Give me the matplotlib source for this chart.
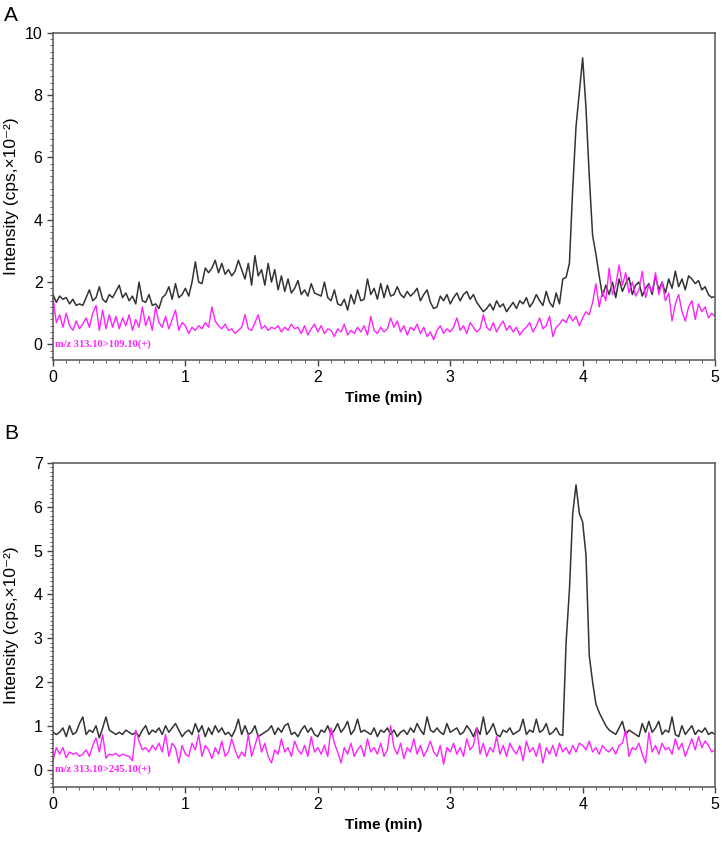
import numpy as np
import matplotlib
matplotlib.use('Agg')
import matplotlib.pyplot as plt
from matplotlib.ticker import MultipleLocator

plt.rcParams['font.family'] = ['Liberation Sans', 'DejaVu Sans']

# time axis, one reading every 0.025 min
time_min = np.linspace(0, 5, 201)

# panel A, values in cps x 10^-2
a_black = [
    1.6, 1.35, 1.55, 1.45, 1.5, 1.3, 1.45, 1.25, 1.3, 1.25, 1.5, 1.75, 1.4, 1.5, 1.85, 1.45, 1.35, 1.6, 1.5, 1.7,
    1.9, 1.5, 1.65, 1.4, 1.55, 1.3, 2.0, 1.4, 1.35, 1.6, 1.25, 1.3, 1.15, 1.5, 1.6, 1.85, 1.45, 1.95, 1.5, 1.6,
    1.8, 1.55, 2.0, 2.65, 2.0, 1.95, 2.45, 2.3, 2.45, 2.7, 2.3, 2.6, 2.25, 2.4, 2.2, 2.35, 2.7, 2.4, 2.1, 2.6,
    1.9, 2.85, 2.2, 2.4, 1.9, 2.6, 2.0, 2.4, 1.75, 2.2, 1.7, 2.1, 1.65, 1.8, 2.05, 1.6, 1.75, 1.55, 1.95, 1.65,
    1.6, 1.55, 2.0, 1.5, 1.4, 1.75, 1.3, 1.25, 1.45, 1.1, 1.6, 1.3, 1.75, 1.4, 1.45, 2.1, 1.6, 1.8, 1.45, 1.95,
    1.5, 1.9, 1.55, 1.6, 1.85, 1.6, 1.5, 1.7, 1.55, 1.65, 1.8, 1.4, 1.6, 1.75, 1.35, 1.15, 1.2, 1.55, 1.4, 1.6,
    1.3, 1.5, 1.65, 1.4, 1.6, 1.7, 1.45, 1.6, 1.35, 1.2, 1.05, 1.15, 1.3, 1.1, 1.4, 1.2, 1.3, 1.05, 1.2, 1.35,
    1.15, 1.4, 1.3, 1.5, 1.2, 1.35, 1.6, 1.4, 1.25, 1.7, 1.35, 1.2, 1.65, 1.3, 2.1, 2.15, 2.6, 5.0, 7.0, 8.1,
    9.2, 7.6, 5.4, 3.5, 2.9, 2.2, 1.55, 1.9, 1.6, 2.0, 1.5, 2.1, 1.7, 1.95, 2.15, 1.6, 1.9, 2.0, 1.55, 1.8,
    1.95, 1.6, 2.2, 1.75, 2.0, 1.65, 2.1, 1.8, 2.35, 1.85, 2.1, 1.75, 2.2, 2.1, 1.95, 2.05, 1.75, 1.85, 1.6, 1.5,
    1.55,
]
a_magenta = [
    1.5, 0.7, 0.95, 0.55, 1.0, 0.6, 0.45, 0.75, 0.5, 0.65, 0.85, 0.55, 1.0, 1.25, 0.45, 1.1, 0.5, 0.95, 0.55, 0.9,
    0.5, 0.85, 0.6, 0.95, 0.45, 0.8, 0.55, 1.2, 0.6, 0.9, 0.45, 1.2, 0.7, 0.55, 0.9, 0.5, 0.8, 1.1, 0.45, 0.7,
    0.6, 0.35, 0.55, 0.45, 0.6, 0.5, 0.7, 0.55, 1.2, 0.75, 0.6, 0.5, 0.65, 0.45, 0.5, 0.35, 0.45, 0.55, 0.95, 0.5,
    0.45, 0.7, 0.95, 0.5, 0.6, 0.45, 0.55, 0.5, 0.6, 0.4, 0.55, 0.45, 0.65, 0.5, 0.55, 0.35, 0.6, 0.3, 0.5, 0.65,
    0.4, 0.6, 0.35, 0.5, 0.45, 0.25, 0.5, 0.4, 0.65, 0.3, 0.45, 0.35, 0.55, 0.4, 0.6, 0.3, 0.9, 0.45, 0.35, 0.55,
    0.4, 0.5, 0.85, 0.55, 0.75, 0.4, 0.6, 0.3, 0.55, 0.45, 0.65, 0.35, 0.55, 0.25, 0.4, 0.15, 0.45, 0.6, 0.35, 0.5,
    0.4, 0.55, 0.85, 0.45, 0.6, 0.35, 0.7, 0.55, 0.4, 0.5, 0.95, 0.55, 0.45, 0.7, 0.4, 0.6, 0.75, 0.45, 0.6, 0.4,
    0.55, 0.3, 0.45, 0.55, 0.7, 0.4, 0.6, 0.85, 0.5, 0.6, 0.9, 0.25, 0.55, 0.65, 0.8, 0.7, 0.95, 0.75, 0.9, 0.6,
    0.85, 1.05, 0.95, 1.35, 1.95, 1.2, 1.7, 1.4, 2.45, 1.6, 1.9, 2.55, 1.9, 2.3, 1.65, 2.0, 1.55, 1.75, 2.35, 1.5,
    1.9, 1.7, 2.3, 1.6, 2.0, 1.4, 1.65, 0.75, 1.3, 1.6, 1.05, 0.75, 1.2, 1.4, 0.8, 1.3, 1.05, 1.2, 0.85, 1.0,
    0.9,
]

# panel B
b_black = [
    0.85, 0.8, 0.85, 0.95, 0.75, 1.0, 0.8, 0.85, 1.05, 1.2, 0.8, 0.9, 0.85, 1.0, 0.72, 0.95, 1.2, 0.9, 0.85, 0.8,
    0.85, 0.8, 0.9, 0.85, 0.8, 0.85, 0.75, 0.9, 1.0, 0.8, 0.9, 0.85, 0.95, 0.8, 1.0, 0.85, 0.95, 1.05, 0.9, 0.75,
    0.85, 0.9, 0.8, 1.05, 0.85, 1.0, 0.75, 0.95, 0.8, 1.0, 0.85, 0.95, 0.8, 0.85, 0.75, 0.9, 1.15, 0.8, 1.0, 0.8,
    0.85, 1.0, 0.75, 0.8, 0.85, 0.9, 1.0, 0.8, 0.95, 0.85, 1.0, 1.05, 0.8, 0.85, 0.75, 0.9, 1.0, 0.85, 0.95, 0.8,
    0.75, 0.9, 0.85, 1.0, 0.8, 0.9, 1.05, 0.85, 0.95, 1.1, 0.8, 0.9, 1.15, 0.85, 0.9, 0.85, 0.8, 0.95, 0.75, 0.9,
    0.85, 0.95, 0.8, 0.9, 0.75, 0.85, 0.9, 0.8, 0.95, 0.85, 1.05, 0.9, 0.8, 1.2, 0.9, 0.85, 0.95, 0.85, 0.8, 1.05,
    0.85, 0.9, 0.95, 0.8, 0.85, 1.0, 0.9, 0.75, 0.95, 0.8, 1.2, 0.8, 0.9, 1.05, 0.8, 0.75, 0.9, 0.85, 0.95, 0.8,
    0.85, 0.9, 1.15, 0.8, 0.9, 0.85, 1.15, 0.85, 0.9, 1.05, 0.8, 0.85, 0.95, 0.8, 0.78, 2.9, 4.1, 5.85, 6.5, 5.85,
    5.65, 4.9, 2.6, 2.0, 1.5, 1.3, 1.15, 1.0, 0.9, 0.85, 0.8, 0.95, 1.1, 0.8, 0.9, 0.85, 0.8, 0.75, 1.05, 0.85,
    1.1, 0.85, 0.95, 1.1, 0.8, 0.9, 0.85, 1.2, 0.8, 0.75, 1.0, 0.8, 0.9, 1.0, 0.8, 0.9, 0.85, 0.95, 0.8, 0.85,
    0.8,
]
b_magenta = [
    0.2, 0.5, 0.35, 0.5, 0.27, 0.4, 0.35, 0.38, 0.3, 0.35, 0.45, 0.3, 0.55, 0.72, 0.4, 0.8, 0.26, 0.35, 0.33, 0.37,
    0.3, 0.35, 0.32, 0.3, 0.2, 0.9, 0.65, 0.45, 0.5, 0.4, 0.55, 0.45, 0.6, 0.4, 0.8, 0.3, 0.6, 0.5, 0.15, 0.55,
    0.35, 0.3, 0.6, 0.45, 0.8, 0.3, 0.55, 0.45, 0.25, 0.5, 0.35, 0.65, 0.3, 0.4, 0.7, 0.45, 0.25, 0.4, 0.3, 0.8,
    0.3, 0.55, 0.8, 0.4, 0.6, 0.3, 0.15, 0.45, 0.35, 0.7, 0.4, 0.5, 0.3, 0.65, 0.45, 0.35, 0.55, 0.3, 0.75, 0.4,
    0.5, 0.35, 0.55, 0.3, 0.95, 0.6, 0.4, 0.15, 0.5, 0.35, 0.6, 0.3, 0.45, 0.55, 0.3, 0.7, 0.4, 0.5, 0.35, 0.6,
    0.3, 0.45, 1.0, 0.5, 0.35, 0.6, 0.25, 0.5, 0.4, 0.7, 0.35, 0.55, 0.3, 0.45, 0.65, 0.4, 0.3, 0.55, 0.12, 0.5,
    0.4, 0.6, 0.35, 0.5, 0.3, 0.7, 0.45, 0.55, 0.95, 0.35, 0.6, 0.3, 0.5, 0.4, 0.75, 0.35, 0.55, 0.3, 0.6, 0.45,
    0.35, 0.55, 0.2, 0.65, 0.4, 0.5, 0.3, 0.6, 0.15, 0.5, 0.35, 0.55, 0.3, 0.6, 0.4, 0.5, 0.35, 0.55, 0.4, 0.6,
    0.55, 0.45, 0.65, 0.4, 0.5, 0.35, 0.55, 0.45, 0.4, 0.5, 0.35, 0.55, 0.6, 0.9, 0.3, 0.5, 0.45, 0.6, 0.35, 0.15,
    0.85, 0.4, 0.55, 0.35, 0.6, 0.45, 0.5, 0.35, 0.7, 0.45, 0.6, 0.3, 0.5, 0.7, 0.45, 0.75, 0.5, 0.65, 0.55, 0.4,
    0.45,
]

panels = [
    ('A', a_black, a_magenta, 'm/z 313.10>109.10(+)', (-0.5, 10), 2, 0.2),
    ('B', b_black, b_magenta, 'm/z 313.10>245.10(+)', (-0.4, 7), 1, 0.1),
]

fig = plt.figure(figsize=(7.22, 8.43), dpi=100)
boxes = [[0.0734, 0.573, 0.917, 0.388], [0.0734, 0.0664, 0.917, 0.3844]]
letter_y = [0.993, 0.497]

for (letter, blk, mag, label, ylim, ystep, yminor), box, ly in zip(panels, boxes, letter_y):
    ax = fig.add_axes(box)
    ax.plot(time_min, blk, color='#333333', lw=1.1)
    ax.plot(time_min, mag, color='#ff22ff', lw=1.0)
    ax.set_xlim(0, 5)
    ax.set_ylim(*ylim)
    ax.xaxis.set_major_locator(MultipleLocator(1))
    ax.xaxis.set_minor_locator(MultipleLocator(0.1))
    ax.yaxis.set_major_locator(MultipleLocator(ystep))
    ax.yaxis.set_minor_locator(MultipleLocator(yminor))
    ax.tick_params(which='major', length=4, width=1.0, labelsize=11.5, color='#444444')
    ax.tick_params(which='minor', length=2, width=0.7, color='#666666')
    for s in ax.spines.values():
        s.set_color('#555555')
        s.set_linewidth(1.1)
    ax.set_xlabel('Time (min)', fontsize=11, fontweight='bold')
    ax.set_ylabel('Intensity (cps,×10⁻²)', fontsize=12.5)
    ax.yaxis.set_label_coords(-0.052, 0.5)
    ax.text(0.015, 0.0, label, color='#ff22ff', fontsize=7.6, fontweight='bold',
            family='Liberation Serif', va='center', ha='left')
    fig.text(0.006, ly, letter, fontsize=15, va='top', ha='left')

plt.savefig('out.png', dpi=100)
